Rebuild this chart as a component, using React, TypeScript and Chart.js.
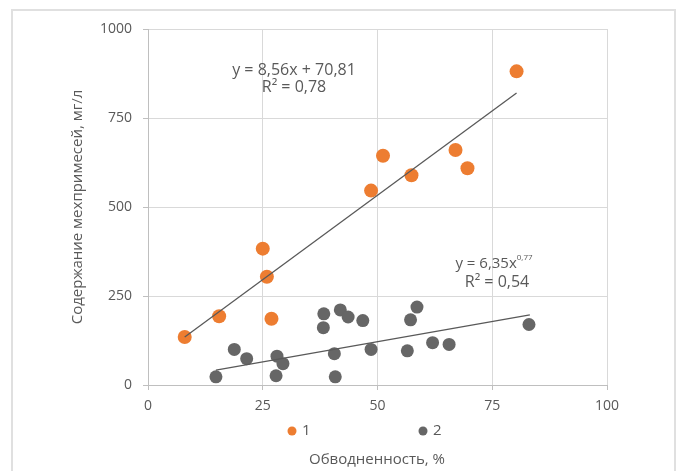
import React, { useEffect, useRef } from "react";
import { Chart, registerables } from "chart.js";

Chart.register(...registerables);

const series1X = [8, 15.5, 25, 25.9, 26.9, 48.6, 51.2, 57.4, 67, 69.6, 80.3];
const series1Y = [135, 193, 383, 304, 186, 546, 644, 589, 660, 609, 881];
const series2X = [14.8, 18.8, 21.5, 27.9, 28.1, 29.4, 38.2, 38.3, 40.6, 40.8, 41.9, 43.6, 46.8, 48.6, 56.5, 57.2, 58.6, 62, 65.6, 83];
const series2Y = [23, 100, 74, 26, 81, 60, 161, 200, 88, 23, 211, 191, 181, 100, 96, 183, 219, 119, 114, 170];
const trend1X = [8, 80.3];
const trend1Y = [135, 820];
const trend2X = [14.8, 83.2];
const trend2Y = [42, 197];
const legendLabels = ["1", "2"];
const xTitle = "Обводненность, %";
const yTitle = "Содержание мехпримесей, мг/л";
const eq1 = ["y = 8,56x + 70,81", "R² = 0,78"];
const eq2Main = "y = 6,35x";
const eq2Sup = "0,77";
const eq2R = "R² = 0,54";

const ORANGE = "#ED7D31";
const GRAY = "#666666";
const TEXT = "#595959";
const FONT = "'Open Sans', sans-serif";

const pts = (xs: number[], ys: number[]) => xs.map((x, i) => ({ x, y: ys[i] }));

const overlay = {
  id: "overlay",
  afterDraw(chart: any) {
    const ctx = chart.ctx as CanvasRenderingContext2D;
    ctx.save();
    ctx.fillStyle = TEXT;
    ctx.textBaseline = "middle";
    // legend
    ctx.font = `15px ${FONT}`;
    ctx.textAlign = "left";
    const leg = [
      { cx: 292, color: ORANGE, label: legendLabels[0] },
      { cx: 423, color: GRAY, label: legendLabels[1] },
    ];
    for (const l of leg) {
      ctx.beginPath();
      ctx.fillStyle = l.color;
      ctx.arc(l.cx, 431, 4.5, 0, Math.PI * 2);
      ctx.fill();
      ctx.fillStyle = TEXT;
      ctx.fillText(l.label, l.cx + 10, 431);
    }
    // x title
    ctx.textAlign = "center";
    ctx.fillText(xTitle, 377, 460);
    // y title
    ctx.save();
    ctx.translate(78, 207);
    ctx.rotate(-Math.PI / 2);
    ctx.fillText(yTitle, 0, 0);
    ctx.restore();
    // equations
    ctx.font = `16px ${FONT}`;
    ctx.textAlign = "center";
    ctx.fillText(eq1[0], 294, 70);
    ctx.fillText(eq1[1], 294, 87);
    // eq2 with superscript
    ctx.font = `15px ${FONT}`;
    const wMain = ctx.measureText(eq2Main).width;
    ctx.font = `8px ${FONT}`;
    const wSup = ctx.measureText(eq2Sup).width;
    const startX = 494 - (wMain + wSup) / 2;
    ctx.textAlign = "left";
    ctx.font = `15px ${FONT}`;
    ctx.fillText(eq2Main, startX, 264);
    ctx.font = `8px ${FONT}`;
    ctx.fillText(eq2Sup, startX + wMain, 258);
    ctx.font = `16px ${FONT}`;
    ctx.textAlign = "center";
    ctx.fillText(eq2R, 497, 282);
    ctx.restore();
  },
};

export default function App() {
  const ref = useRef<HTMLCanvasElement>(null);
  useEffect(() => {
    if (!ref.current) return;
    Chart.defaults.font.family = FONT;
    const chart = new Chart(ref.current, {
      type: "scatter",
      data: {
        datasets: [
          {
            type: "line",
            data: pts(trend1X, trend1Y),
            borderColor: "#595959",
            borderWidth: 1.3,
            pointRadius: 0,
            fill: false,
            order: 0,
          } as any,
          {
            type: "line",
            data: pts(trend2X, trend2Y),
            borderColor: "#595959",
            borderWidth: 1.3,
            pointRadius: 0,
            fill: false,
            order: 0,
          } as any,
          {
            data: pts(series1X, series1Y),
            backgroundColor: ORANGE,
            borderWidth: 0,
            pointRadius: 7,
            order: 1,
          },
          {
            data: pts(series2X, series2Y),
            backgroundColor: GRAY,
            borderWidth: 0,
            pointRadius: 6.5,
            order: 1,
          },
        ],
      },
      options: {
        animation: false,
        responsive: false,
        devicePixelRatio: 1,
        layout: { padding: { left: 0, top: 29, right: 72, bottom: 0 } },
        plugins: { legend: { display: false }, tooltip: { enabled: false } },
        scales: {
          x: {
            type: "linear",
            min: 0,
            max: 100,
            ticks: { stepSize: 25, color: TEXT, font: { size: 14 }, padding: 8, callback: (v: any) => String(v) },
            grid: { color: "#d9d9d9", tickColor: "#bfbfbf", tickLength: 5 },
            border: { color: "#bfbfbf", width: 1 },
            afterFit: (s: any) => {
              s.height = 86;
            },
          },
          y: {
            type: "linear",
            min: 0,
            max: 1000,
            ticks: { stepSize: 250, color: TEXT, font: { size: 14 }, padding: 11, callback: (v: any) => String(v) },
            grid: { color: "#d9d9d9", tickColor: "#bfbfbf", tickLength: 5 },
            border: { color: "#bfbfbf", width: 1 },
            afterFit: (s: any) => {
              s.width = 148;
            },
          },
        },
      },
      plugins: [overlay],
    });
    return () => chart.destroy();
  }, []);
  return (
    <div style={{ position: "fixed", left: 0, top: 0, width: 679, height: 471, background: "#fff", overflow: "hidden" }}>
      <div
        style={{
          position: "absolute",
          left: 11,
          top: 9,
          width: 661,
          height: 500,
          borderLeft: "2px solid #e0e0e0",
          borderTop: "2px solid #e0e0e0",
          borderRight: "2px solid #e0e0e0",
        }}
      />
      <canvas ref={ref} width={679} height={471} style={{ position: "absolute", left: 0, top: 0, display: "block" }} />
    </div>
  );
}
